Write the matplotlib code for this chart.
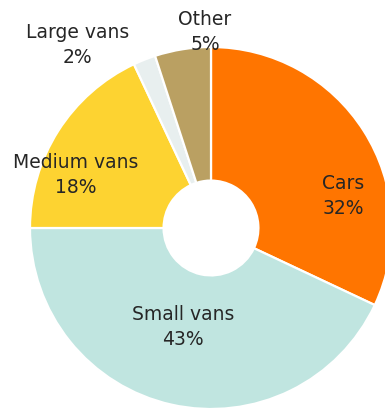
import matplotlib
matplotlib.use('Agg')
import matplotlib.pyplot as plt

# vehicle mix, clockwise from 12 o'clock
categories = ['Cars', 'Small vans', 'Medium vans', 'Large vans', 'Other']
shares = [32, 43, 18, 2, 5]
colors = ['#FF7500', '#C0E5E0', '#FDD331', '#E8EFEF', '#BAA062']

# label anchor points (data units, pie radius = 1)
label_pos = [
    (0.729, 0.182),
    (-0.155, -0.541),
    (-0.749, 0.298),
    (-0.738, 1.017),
    (-0.033, 1.088),
]

fig = plt.figure(figsize=(3.85, 4.10), dpi=100)
ax = fig.add_axes([0, 0, 1, 1])

ax.pie(shares, colors=colors, startangle=90, counterclock=False,
       radius=1.0,
       wedgeprops=dict(width=0.738, edgecolor='white', linewidth=1.6))

for name, val, (x, y) in zip(categories, shares, label_pos):
    ax.text(x, y, f'{name}\n{val}%', ha='center', va='center',
            fontsize=13.5, color='#262626', linespacing=1.4)

ax.set_xlim(-211 / 181, (385 - 211) / 181)
ax.set_ylim(-1.0, 229 / 181)
ax.set_aspect('auto')
ax.axis('off')

fig.savefig('out.png', dpi=100)
